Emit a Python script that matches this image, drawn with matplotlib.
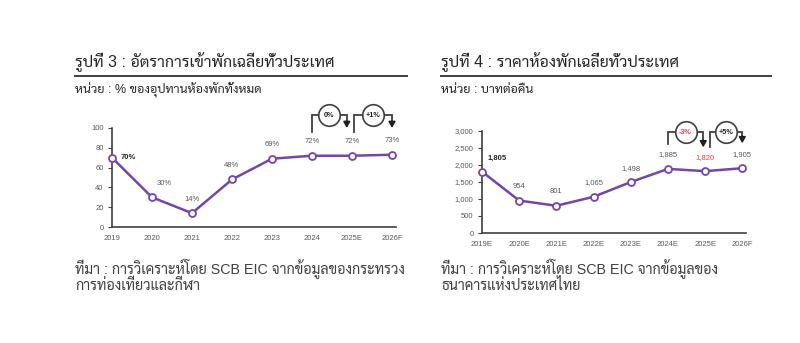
import matplotlib
matplotlib.use("Agg")
import matplotlib.pyplot as plt
import matplotlib.transforms as mtransforms

THAI = ["Liberation Sans", "Sarabun", "DejaVu Sans"]
plt.rcParams["font.family"] = THAI

# --- data ---
occ_years = ["2019", "2020", "2021", "2022", "2023", "2024", "2025E", "2026F"]
occ_rate = [70, 30, 14, 48, 69, 72, 72, 73]
occ_labels = ["70%", "30%", "14%", "48%", "69%", "72%", "72%", "73%"]
occ_changes = ["0%", "+1%"]

price_years = ["2019E", "2020E", "2021E", "2022E", "2023E", "2024E", "2025E", "2026F"]
price = [1805, 954, 801, 1065, 1498, 1885, 1820, 1905]
price_changes = ["-3%", "+5%"]

PURPLE = "#7446a8"
GREY = "#595959"
RED = "#ff3b3b"
W, H = 800, 343

fig = plt.figure(figsize=(W / 100, H / 100), dpi=100)


def fx(px):
    return px / W


def fy(py):
    return 1 - py / H


def header(x0, x1, title, unit, src):
    fig.text(fx(x0), fy(62), title, fontsize=11.5, color="#262626", va="center")
    fig.add_artist(plt.Line2D([fx(x0), fx(x1)], [fy(76), fy(76)], color="#404040", lw=1.4))
    fig.text(fx(x0), fy(90), unit, fontsize=9, color="#262626", va="center")
    fig.text(fx(x0), fy(276), src, fontsize=10.3, color="#404040", va="center",
             linespacing=0.95)


def make_ax(left, right, top, bottom):
    ax = fig.add_axes([fx(left), fy(bottom), fx(right - left), (bottom - top) / H])
    ax.spines[["top", "right"]].set_visible(False)
    for s in ("left", "bottom"):
        ax.spines[s].set_color("#404040")
        ax.spines[s].set_linewidth(1.2)
    ax.tick_params(axis="x", length=0, pad=6, labelsize=5.5, labelcolor=GREY)
    ax.tick_params(axis="y", length=3, width=0.8, color="#404040", pad=3,
                   labelsize=5.5, labelcolor=GREY)
    ax.patch.set_alpha(0)
    return ax


def bracket(ax, i0, i1, y_start, y_end, y_top, text, tcolor):
    tr = mtransforms.blended_transform_factory(ax.transData, ax.transAxes)
    ax.plot([i0, i0, i1, i1], [y_start, y_top, y_top, y_end + 0.06], transform=tr,
            color="#404040", lw=1.3, clip_on=False, solid_joinstyle="miter")
    ax.annotate("", xy=(i1, y_end), xytext=(i1, y_end + 0.07), xycoords=tr,
                textcoords=tr,
                arrowprops=dict(arrowstyle="-|>,head_width=0.2,head_length=0.35",
                                color="#202020", lw=1.2, shrinkA=0, shrinkB=0))
    xc = (i0 + i1) / 2
    ax.plot([xc], [y_top], transform=tr, marker="o", ms=15.5, mfc="white",
            mec="#404040", mew=1.2, clip_on=False, zorder=5)
    ax.text(xc, y_top, text, transform=tr, ha="center", va="center",
            fontsize=5.2, fontweight="bold", color=tcolor, zorder=6)


# --- left chart: occupancy rate ---
header(75, 407, "รูปที่ 3 : อัตราการเข้าพักเฉลี่ยทั่วประเทศ",
       "หน่วย : % ของอุปทานห้องพักทั้งหมด",
       "ที่มา : การวิเคราะห์โดย SCB EIC จากข้อมูลของกระทรวง\nการท่องเที่ยวและกีฬา")
ax1 = make_ax(112, 396, 128, 227)
x = range(len(occ_years))
ax1.plot(x, occ_rate, color=PURPLE, lw=1.8, marker="o", ms=5, mfc="white",
         mec=PURPLE, mew=1.3, clip_on=False, zorder=3)
ax1.set_xlim(0, 7.1)
ax1.set_ylim(0, 100)
ax1.set_yticks(range(0, 101, 20))
ax1.set_xticks(list(x))
ax1.set_xticklabels(occ_years)
for i, (v, lab) in enumerate(zip(occ_rate, occ_labels)):
    if i == 0:
        ax1.annotate(lab, (i, v), xytext=(16, 0), textcoords="offset pixels",
                     ha="center", va="center", fontsize=5.5, fontweight="bold",
                     color="#262626")
    else:
        dx = 12 if i == 1 else 0
        ax1.annotate(lab, (i, v), xytext=(dx, 14), textcoords="offset pixels",
                     ha="center", va="center", fontsize=5.5, color=GREY)
bracket(ax1, 5, 5.87, 0.96, 1.0, 1.13, occ_changes[0], "#262626")
bracket(ax1, 6.05, 7, 0.96, 1.0, 1.13, occ_changes[1], "#262626")

# --- right chart: room price ---
header(441, 771, "รูปที่ 4 : ราคาห้องพักเฉลี่ยทั่วประเทศ",
       "หน่วย : บาทต่อคืน",
       "ที่มา : การวิเคราะห์โดย SCB EIC จากข้อมูลของ\nธนาคารแห่งประเทศไทย")
ax2 = make_ax(482, 746, 131, 233)
x = range(len(price_years))
ax2.plot(x, price, color=PURPLE, lw=1.8, marker="o", ms=5, mfc="white",
         mec=PURPLE, mew=1.3, clip_on=False, zorder=3)
ax2.set_xlim(0, 7.1)
ax2.set_ylim(0, 3000)
ax2.set_yticks(range(0, 3001, 500))
ax2.yaxis.set_major_formatter(matplotlib.ticker.StrMethodFormatter("{x:,.0f}"))
ax2.set_xticks(list(x))
ax2.set_xticklabels(price_years)
for i, v in enumerate(price):
    lab = f"{v:,}"
    if i == 0:
        ax2.annotate(lab, (i, v), xytext=(15, 13), textcoords="offset pixels",
                     ha="center", va="center", fontsize=5.5, fontweight="bold",
                     color="#262626")
    else:
        ax2.annotate(lab, (i, v), xytext=(0, 14), textcoords="offset pixels",
                     ha="center", va="center", fontsize=5.5,
                     color=RED if i == 6 else GREY)
bracket(ax2, 5, 5.95, 0.87, 0.84, 0.99, price_changes[0], RED)
bracket(ax2, 6.12, 7, 0.84, 0.88, 0.99, price_changes[1], "#262626")

fig.savefig("out.png", dpi=100)
